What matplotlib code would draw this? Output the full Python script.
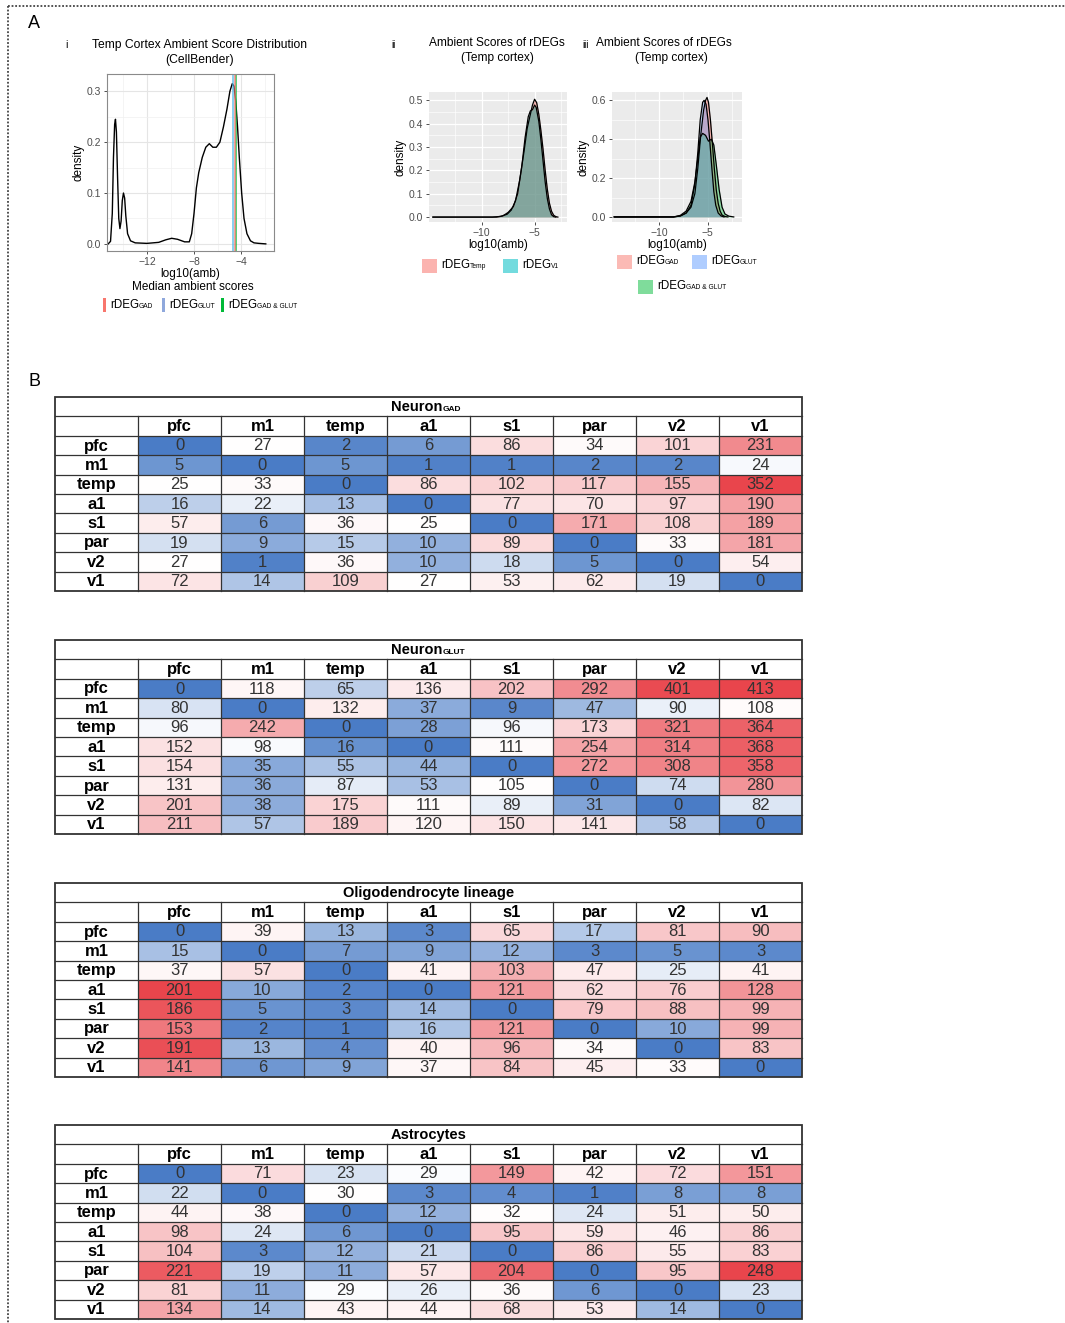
import numpy as np
import matplotlib
matplotlib.use('Agg')
import matplotlib.pyplot as plt
from matplotlib.patches import Rectangle
from matplotlib.colors import LinearSegmentedColormap, TwoSlopeNorm

W, H = 1065, 1323

plt.rcParams['font.family'] = ['Liberation Sans', 'DejaVu Sans']

NARROW = ['Liberation Sans Narrow', 'Liberation Sans', 'DejaVu Sans']

# ---- panel A data (density curves, log10 ambient score) ----
amb_x = [-15.3, -15.1, -14.95, -14.85, -14.75, -14.68, -14.6, -14.5, -14.4, -14.3,
         -14.2, -14.1, -14.0, -13.9, -13.8, -13.65, -13.4, -13.0, -12.0, -11.0,
         -10.4, -9.9, -9.4, -8.8, -8.4, -8.2, -8.0, -7.8, -7.6, -7.3,
         -7.0, -6.7, -6.4, -6.1, -5.8, -5.5, -5.2, -4.95, -4.75, -4.6,
         -4.45, -4.3, -4.15, -3.95, -3.75, -3.5, -3.2, -2.9, -2.5, -1.9]
amb_y = [0.0, 0.005, 0.06, 0.17, 0.235, 0.245, 0.22, 0.13, 0.05, 0.03,
         0.045, 0.085, 0.1, 0.09, 0.055, 0.02, 0.006, 0.002, 0.001, 0.003,
         0.008, 0.011, 0.009, 0.004, 0.004, 0.02, 0.06, 0.11, 0.14, 0.17,
         0.19, 0.197, 0.19, 0.19, 0.2, 0.23, 0.265, 0.3, 0.315, 0.31,
         0.28, 0.23, 0.17, 0.1, 0.05, 0.02, 0.006, 0.002, 0.001, 0.0]
median_scores = {'GAD & GLUT': -4.45, 'GAD': -4.5, 'GLUT': -4.7}
median_colors = {'GAD': '#F8766D', 'GLUT': '#4FB7E8', 'GAD & GLUT': '#00BA38'}

temp_x = [-14.6, -9.0, -8.2, -7.6, -7.2, -6.8, -6.4, -6.0, -5.7, -5.4, -5.2, -5.0,
          -4.8, -4.6, -4.4, -4.2, -4.0, -3.8, -3.6, -3.4, -3.2, -3.0, -2.8]
temp_y = [0.0, 0.0, 0.003, 0.012, 0.03, 0.07, 0.16, 0.28, 0.38, 0.44, 0.48, 0.505,
          0.49, 0.44, 0.37, 0.29, 0.2, 0.12, 0.06, 0.025, 0.008, 0.002, 0.0]
v1_x = [-14.6, -8.6, -8.0, -7.5, -7.0, -6.6, -6.2, -5.9, -5.6, -5.4, -5.2, -5.0,
        -4.85, -4.6, -4.4, -4.2, -4.0, -3.8, -3.6, -3.4, -3.2, -3.0]
v1_y = [0.0, 0.0, 0.005, 0.02, 0.045, 0.1, 0.22, 0.34, 0.43, 0.455, 0.46, 0.48,
        0.47, 0.41, 0.33, 0.24, 0.15, 0.08, 0.035, 0.01, 0.002, 0.0]

gad_x = [-14.6, -8.5, -7.8, -7.2, -6.7, -6.3, -6.0, -5.7, -5.4, -5.2, -5.05, -4.9,
         -4.7, -4.5, -4.3, -4.1, -3.9, -3.7, -3.5, -3.2, -2.9]
gad_y = [0.0, 0.0, 0.005, 0.02, 0.05, 0.12, 0.25, 0.42, 0.55, 0.6, 0.615, 0.59,
         0.5, 0.38, 0.25, 0.14, 0.07, 0.03, 0.01, 0.002, 0.0]
glut_x = [-14.6, -8.5, -7.8, -7.2, -6.7, -6.3, -6.0, -5.75, -5.5, -5.35, -5.15, -4.95,
          -4.75, -4.55, -4.35, -4.15, -3.9, -3.6, -3.3]
glut_y = [0.0, 0.0, 0.005, 0.02, 0.06, 0.17, 0.33, 0.5, 0.59, 0.6, 0.58, 0.5,
          0.38, 0.25, 0.13, 0.06, 0.02, 0.005, 0.0]
both_x = [-14.6, -8.5, -7.8, -7.2, -6.7, -6.3, -6.0, -5.75, -5.5, -5.2, -4.9, -4.6,
          -4.35, -4.1, -3.8, -3.5, -3.2, -2.8, -2.3]
both_y = [0.0, 0.0, 0.008, 0.03, 0.08, 0.18, 0.3, 0.41, 0.43, 0.42, 0.39, 0.4,
          0.37, 0.27, 0.14, 0.05, 0.015, 0.004, 0.0]

# ---- panel B data: rDEG counts between regions ----
regions = ['pfc', 'm1', 'temp', 'a1', 's1', 'par', 'v2', 'v1']

neuron_gad = [
    [0, 27, 2, 6, 86, 34, 101, 231],
    [5, 0, 5, 1, 1, 2, 2, 24],
    [25, 33, 0, 86, 102, 117, 155, 352],
    [16, 22, 13, 0, 77, 70, 97, 190],
    [57, 6, 36, 25, 0, 171, 108, 189],
    [19, 9, 15, 10, 89, 0, 33, 181],
    [27, 1, 36, 10, 18, 5, 0, 54],
    [72, 14, 109, 27, 53, 62, 19, 0],
]
neuron_glut = [
    [0, 118, 65, 136, 202, 292, 401, 413],
    [80, 0, 132, 37, 9, 47, 90, 108],
    [96, 242, 0, 28, 96, 173, 321, 364],
    [152, 98, 16, 0, 111, 254, 314, 368],
    [154, 35, 55, 44, 0, 272, 308, 358],
    [131, 36, 87, 53, 105, 0, 74, 280],
    [201, 38, 175, 111, 89, 31, 0, 82],
    [211, 57, 189, 120, 150, 141, 58, 0],
]
oligo = [
    [0, 39, 13, 3, 65, 17, 81, 90],
    [15, 0, 7, 9, 12, 3, 5, 3],
    [37, 57, 0, 41, 103, 47, 25, 41],
    [201, 10, 2, 0, 121, 62, 76, 128],
    [186, 5, 3, 14, 0, 79, 88, 99],
    [153, 2, 1, 16, 121, 0, 10, 99],
    [191, 13, 4, 40, 96, 34, 0, 83],
    [141, 6, 9, 37, 84, 45, 33, 0],
]
astro = [
    [0, 71, 23, 29, 149, 42, 72, 151],
    [22, 0, 30, 3, 4, 1, 8, 8],
    [44, 38, 0, 12, 32, 24, 51, 50],
    [98, 24, 6, 0, 95, 59, 46, 86],
    [104, 3, 12, 21, 0, 86, 55, 83],
    [221, 19, 11, 57, 204, 0, 95, 248],
    [81, 11, 29, 26, 36, 6, 0, 23],
    [134, 14, 43, 44, 68, 53, 14, 0],
]
# (title, subscript) for each table
table_titles = [('Neuron', 'GAD'), ('Neuron', 'GLUT'),
                ('Oligodendrocyte lineage', ''), ('Astrocytes', '')]
table_data = [neuron_gad, neuron_glut, oligo, astro]

fig = plt.figure(figsize=(W / 100, H / 100), dpi=100)


def px_axes(l, t, r, b):
    return fig.add_axes([l / W, 1 - b / H, (r - l) / W, (b - t) / H])


# overlay in pixel coordinates for labels, legends and tables
ov = fig.add_axes([0, 0, 1, 1])
ov.set_xlim(0, W)
ov.set_ylim(H, 0)
ov.axis('off')


def sub_text(x, y, main, sub, size=8, sub_size=4.8, **kw):
    # main text followed by a small subscript placed after its bbox
    t = ov.text(x, y, main, fontsize=size, va='center', **kw)
    ov.annotate(sub, xy=(1, 0.1), xycoords=t, fontsize=sub_size, ha='left',
                va='bottom', **{k: v for k, v in kw.items() if k != 'ha'})
    return t


ov.plot([8, W], [6, 6], color='#444444', lw=1.3, ls=(0, (1, 1)))
ov.plot([8, 8], [6, H], color='#444444', lw=1.3, ls=(0, (1, 1)))
ov.text(34, 24, 'A', fontsize=13, ha='center', va='center')
ov.text(34, 381, 'B', fontsize=13, ha='center', va='center')

tick_kw = dict(labelsize=7.5, colors='#4D4D4D', length=2.5, width=0.6, pad=1.5)


def style_axis(ax, bw):
    ax.tick_params(axis='both', which='major', **tick_kw)
    ax.tick_params(axis='both', which='minor', length=0)
    ax.tick_params(axis='both', which='major', color='#333333')
    ax.set_axisbelow(True)
    if bw:
        ax.set_facecolor('white')
        ax.grid(True, which='major', color='#E5E5E5', lw=0.8)
        ax.grid(True, which='minor', color='#F0F0F0', lw=0.5)
        for s in ax.spines.values():
            s.set_color('#8A8A8A')
            s.set_linewidth(0.8)
    else:
        ax.set_facecolor('#EBEBEB')
        ax.grid(True, which='major', color='white', lw=0.9)
        ax.grid(True, which='minor', color='white', lw=0.45)
        for s in ax.spines.values():
            s.set_visible(False)
    ax.set_xlabel('log10(amb)', fontsize=8.5, labelpad=1)
    ax.set_ylabel('density', fontsize=8.5, labelpad=2)


# --- i: ambient score distribution ---
ax1 = px_axes(107, 74, 274, 251)
ax1.plot(amb_x, amb_y, color='black', lw=1.0)
for k, v in median_scores.items():
    ax1.axvline(v, color=median_colors[k], lw=1.1, alpha=0.85)
ax1.set_xlim(-15.4, -1.2)
ax1.set_ylim(-0.014, 0.334)
ax1.set_xticks([-12, -8, -4])
ax1.set_xticklabels(['\u221212', '\u22128', '\u22124'])
ax1.set_xticks([-14, -10, -6, -2], minor=True)
ax1.set_yticks([0.0, 0.1, 0.2, 0.3])
ax1.set_yticks([0.05, 0.15, 0.25], minor=True)
ax1.set_yticklabels(['0.0', '0.1', '0.2', '0.3'])
style_axis(ax1, True)

ov.text(66, 45, 'i', fontsize=7.5, ha='center', va='center')
ov.text(200, 45, 'Temp Cortex Ambient Score Distribution', fontsize=8.7, ha='center', va='center')
ov.text(200, 60, '(CellBender)', fontsize=8.7, ha='center', va='center')
ov.text(193, 287, 'Median ambient scores', fontsize=8.5, ha='center', va='center')
leg1 = [(103, 'GAD', '#F8766D', 110), (162, 'GLUT', '#8FA8DC', 169),
        (221, 'GAD & GLUT', '#00BA38', 228)]
for xb, key, c, xt in leg1:
    ov.add_patch(Rectangle((xb, 298), 2.6, 14, color=c, lw=0))
    sub_text(xt, 305, 'rDEG', key, size=8.3, ha='left')

# --- ii: rDEG ambient scores, Temp vs V1 ---
ax2 = px_axes(429, 92, 567, 222)
fills2 = [(temp_x, temp_y, '#F8766D', 0.5), (v1_x, v1_y, '#3A9E94', 0.6)]
for xs, ys, c, a in fills2:
    ax2.fill_between(xs, ys, color=c, alpha=a, lw=0)
for xs, ys, c, a in fills2:
    ax2.plot(xs, ys, color='black', lw=0.9)
ax2.set_xlim(-14.97, -1.94)
ax2.set_ylim(-0.021, 0.536)
ax2.set_xticks([-10, -5])
ax2.set_xticklabels(['\u221210', '\u22125'])
ax2.set_xticks([-12.5, -7.5, -2.5], minor=True)
ax2.set_yticks([0.0, 0.1, 0.2, 0.3, 0.4, 0.5])
ax2.set_yticklabels(['0.0', '0.1', '0.2', '0.3', '0.4', '0.5'])
ax2.set_yticks([0.05, 0.15, 0.25, 0.35, 0.45], minor=True)
style_axis(ax2, False)

ov.text(393, 45, 'ii', fontsize=7, ha='center', va='center')
ov.text(497, 43, 'Ambient Scores of rDEGs', fontsize=8.6, ha='center', va='center')
ov.text(497, 58, '(Temp cortex)', fontsize=8.6, ha='center', va='center')
for xb, c, lab in [(422, '#F8766D', 'Temp'), (503, '#00BFC4', 'V1')]:
    ov.add_patch(Rectangle((xb, 259), 15, 14, color=c, alpha=0.55, lw=0))
    sub_text(xb + 19, 265, 'rDEG', lab, size=8.3, ha='left')

# --- iii: rDEG ambient scores by neuron class ---
ax3 = px_axes(612, 92, 742, 222)
fills3 = [(gad_x, gad_y, '#F8766D', 0.5), (both_x, both_y, '#00BA38', 0.4),
          (glut_x, glut_y, '#619CFF', 0.38)]
for xs, ys, c, a in fills3:
    ax3.fill_between(xs, ys, color=c, alpha=a, lw=0)
for xs, ys, c, a in fills3:
    ax3.plot(xs, ys, color='black', lw=0.9)
ax3.set_xlim(-14.83, -1.45)
ax3.set_ylim(-0.026, 0.643)
ax3.set_xticks([-10, -5])
ax3.set_xticklabels(['\u221210', '\u22125'])
ax3.set_xticks([-12.5, -7.5, -2.5], minor=True)
ax3.set_yticks([0.0, 0.2, 0.4, 0.6])
ax3.set_yticklabels(['0.0', '0.2', '0.4', '0.6'])
ax3.set_yticks([0.1, 0.3, 0.5], minor=True)
style_axis(ax3, False)

ov.text(586, 45, 'iii', fontsize=7, ha='center', va='center')
ov.text(664, 43, 'Ambient Scores of rDEGs', fontsize=8.6, ha='center', va='center')
ov.text(671, 58, '(Temp cortex)', fontsize=8.6, ha='center', va='center')
leg3 = [(617, 255, '#F8766D', 'GAD'), (692, 255, '#619CFF', 'GLUT'),
        (638, 280, '#00BA38', 'GAD & GLUT')]
for xb, yb, c, key in leg3:
    ov.add_patch(Rectangle((xb, yb), 15, 14, color=c, alpha=0.5, lw=0))
    sub_text(xb + 19, yb + 6, 'rDEG', key, size=8.3, ha='left')

# ---- B: heat-coloured count tables ----
cmap = LinearSegmentedColormap.from_list('bwr_xl', ['#4a7cc6', '#ffffff', '#e9454c'])
left, col_w, row_h = 55, 83, 19.4
table_tops = [397, 640, 883, 1125]
grid_c = '#333333'
cell_fs = 12

for top, (title, title_sub), data in zip(table_tops, table_titles, table_data):
    vals = np.array(data, dtype=float)
    norm = TwoSlopeNorm(vmin=vals.min(), vcenter=np.median(vals), vmax=vals.max())
    n = len(regions)
    right = left + col_w * (n + 1)
    body_top = top + 2 * row_h
    bottom = top + row_h * (n + 2)
    for i in range(n):
        for j in range(n):
            x0 = left + col_w * (j + 1)
            y0 = body_top + row_h * i
            ov.add_patch(Rectangle((x0, y0), col_w, row_h, facecolor=cmap(norm(vals[i, j])),
                                   edgecolor='none'))
            ov.text(x0 + col_w / 2, y0 + row_h / 2 + 0.5, str(data[i][j]), fontsize=cell_fs,
                    family=NARROW, color='#333333', ha='center', va='center')
        ov.text(left + col_w / 2, body_top + row_h * i + row_h / 2 + 0.5, regions[i],
                fontsize=cell_fs, family=NARROW, weight='bold', ha='center', va='center')
        ov.text(left + col_w * (i + 1.5), top + row_h * 1.5 + 0.5, regions[i],
                fontsize=cell_fs, family=NARROW, weight='bold', ha='center', va='center')
    mid = (left + right) / 2
    if title_sub:
        sub_text(mid - 12, top + row_h / 2 + 0.5, title, title_sub, size=10.5,
                 sub_size=6, family=NARROW, weight='bold', ha='center')
    else:
        ov.text(mid, top + row_h / 2 + 0.5, title, fontsize=10.5,
                family=NARROW, weight='bold', ha='center', va='center')
    # grid lines
    for k in range(1, n + 2):
        y = top + row_h * k
        ov.plot([left, right], [y, y], color=grid_c, lw=0.9)
    for k in range(1, n + 1):
        x = left + col_w * k
        ov.plot([x, x], [top + row_h, bottom], color=grid_c, lw=0.9)
    ov.add_patch(Rectangle((left, top), right - left, bottom - top, fill=False,
                           edgecolor=grid_c, lw=1.3))

fig.savefig('out.png', dpi=100)
